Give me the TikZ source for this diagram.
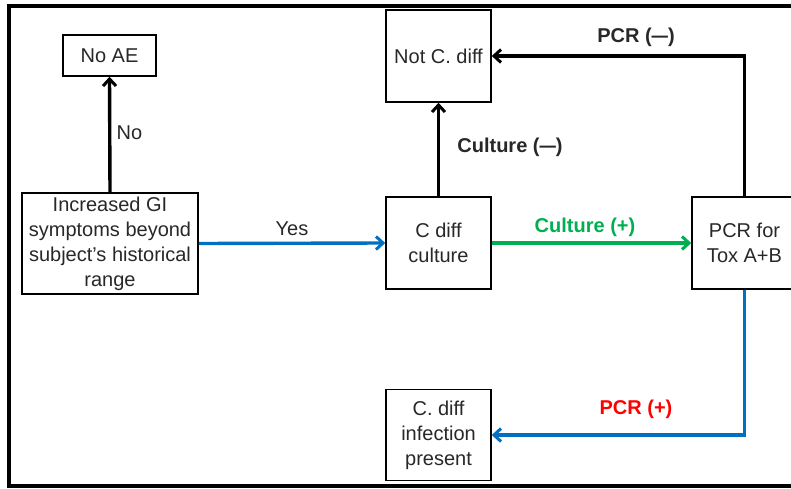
\documentclass[tikz,border=0pt]{standalone}
\usepackage{fontspec}
\setmainfont{Liberation Sans}
\usetikzlibrary{arrows.meta}
\definecolor{txt}{RGB}{40,40,40}
\definecolor{cblue}{RGB}{0,112,192}
\definecolor{cgreen}{RGB}{0,176,80}
\definecolor{cred}{RGB}{255,0,0}
\newcommand{\mydash}{\scalebox{0.82}[1]{—}}
\tikzset{
  box/.style={draw=black, line width=1.6pt, rectangle, inner sep=0pt, align=center,
    text=txt, font=\fontsize{20}{25}\selectfont},
  conn/.style={line width=3.4pt, -{Straight Barb[length=7pt,width=13pt,line width=3pt]}},
  lbl/.style={text=txt, font=\fontsize{20}{24}\selectfont, inner sep=0pt},
  blbl/.style={font=\fontsize{20}{24}\selectfont\bfseries, inner sep=0pt},
}
\begin{document}
\begin{tikzpicture}[x=1pt,y=-1pt]
\useasboundingbox (0,0) rectangle (791,489);
\clip (0,0) rectangle (791,489);
\fill[white] (0,0) rectangle (791,489);
\draw[line width=4pt] (820,6.5) -- (9,6.5) -- (9,486) -- (820,486);

\node[box, minimum width=93pt, minimum height=41pt] (noae) at (109.5,55.5) {No AE};
\node[box, minimum width=176pt, minimum height=101pt] (gi) at (110,243.5)
  {Increased GI\\symptoms beyond\\subject’s historical\\range};
\node[box, minimum width=105pt, minimum height=92pt] (notc) at (438.5,56) {Not C. diff};
\node[box, minimum width=105pt, minimum height=92pt] (cult) at (438.5,243) {C diff\\culture};
\node[box, minimum width=105pt, minimum height=92pt] (pcr) at (744.5,243) {PCR for\\Tox A+B};
\node[box, minimum width=105pt, minimum height=91pt] (inf) at (438.5,435) {C. diff\\infection\\present};

\draw[conn, black] (gi.north) -- (noae.south);
\draw[conn, cblue] (gi.east) -- (cult.west);
\draw[conn, black] (cult.north) -- (notc.south);
\draw[conn, cgreen] (cult.east) -- (pcr.west);
\draw[conn, black] (pcr.north) |- (notc.east);
\draw[conn, cblue] (pcr.south) |- (inf.east);

\node[lbl] (lno) at (129.5,133) {No};
\node[lbl] (lyes) at (292,229) {Yes};
\node[blbl, text=txt] (lcm) at (510,147) {Culture (\mydash)};
\node[blbl, text=cgreen] (lcp) at (585,227) {Culture (+)};
\node[blbl, text=txt] (lpm) at (636,37) {PCR (\mydash)};
\node[blbl, text=cred] (lpp) at (636,409) {PCR (+)};
\end{tikzpicture}
\end{document}
